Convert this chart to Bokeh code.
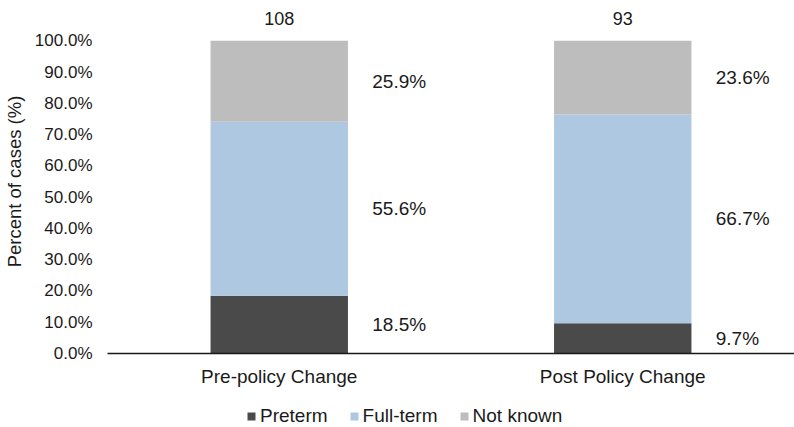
from bokeh.plotting import figure
from bokeh.layouts import column
from bokeh.models import (ColumnDataSource, FactorRange, Range1d, FixedTicker,
                          PrintfTickFormatter, Legend, LegendItem)
from bokeh.embed import file_html
from bokeh.resources import INLINE
from bokeh.core.properties import value

categories = ["Pre-policy Change", "Post Policy Change"]
series = ["Preterm", "Full-term", "Not known"]
preterm = [18.5, 9.7]
fullterm = [55.6, 66.7]
notknown = [25.9, 23.6]
totals = [108, 93]
y_ticks = [0, 10, 20, 30, 40, 50, 60, 70, 80, 90, 100]
colors = ["#4a4a4a", "#adc8e0", "#bdbdbd"]

FONT = "Liberation Sans"
TXT = "#1a1a1a"

data = dict(cat=categories, Preterm=preterm,
            **{"Full-term": fullterm, "Not known": notknown})
src = ColumnDataSource(data)

# headroom above 100% so the totals above the bars stay inside the frame
p = figure(x_range=FactorRange(*categories, range_padding=0),
           y_range=Range1d(0, 110),
           width=794, height=391, output_backend="svg", toolbar_location=None,
           min_border_top=9, min_border_right=0, min_border_bottom=38,
           min_border_left=106)
p.outline_line_color = None
p.grid.grid_line_color = None

rs = p.vbar_stack(series, x="cat", width=0.4, color=colors, source=src,
                  line_color=None)

# segment labels: middle of each stacked segment
lab_x, lab_y, lab_t = [], [], []
for i, c in enumerate(categories):
    base = 0.0
    for vals in (preterm, fullterm, notknown):
        v = vals[i]
        lab_x.append(c)
        lab_y.append(base + v / 2)
        lab_t.append(f"{v:.1f}%")
        base += v
p.text(x=lab_x, y=lab_y, text=lab_t, x_offset=93, text_align="left",
       text_baseline="middle", text_font=value(FONT), text_font_size="19px",
       text_color=TXT)

tot_y = [a + b + c for a, b, c in zip(preterm, fullterm, notknown)]
p.text(x=categories, y=tot_y, text=[str(t) for t in totals], y_offset=-22,
       text_align="center", text_baseline="middle", text_font=value(FONT),
       text_font_size="18px", text_color=TXT)

# axes
p.yaxis.ticker = FixedTicker(ticks=y_ticks)
p.yaxis.formatter = PrintfTickFormatter(format="%.1f%%")
p.yaxis.axis_line_color = None
p.yaxis.major_tick_line_color = None
p.yaxis.minor_tick_line_color = None
p.yaxis.major_tick_out = 0
p.yaxis.major_tick_in = 0
p.yaxis.minor_tick_out = 0
p.yaxis.major_label_text_font = FONT
p.yaxis.major_label_text_font_size = "17px"
p.yaxis.major_label_text_color = TXT
p.yaxis.major_label_standoff = 15
p.yaxis.axis_label = "Percent of cases (%)"
p.yaxis.axis_label_text_font = FONT
p.yaxis.axis_label_text_font_size = "18.5px"
p.yaxis.axis_label_text_font_style = "normal"
p.yaxis.axis_label_text_color = TXT
p.yaxis.axis_label_standoff = 7

p.xaxis.axis_line_color = "#1a1a1a"
p.xaxis.axis_line_width = 1.5
p.xaxis.major_tick_line_color = None
p.xaxis.minor_tick_line_color = None
p.xaxis.major_tick_out = 0
p.xaxis.major_tick_in = 0
p.xaxis.major_label_text_font = FONT
p.xaxis.major_label_text_font_size = "19px"
p.xaxis.major_label_text_color = TXT
p.xaxis.major_label_standoff = 12

# legend strip below the chart
lf = figure(x_range=FactorRange(*categories), y_range=Range1d(1000, 1001),
            width=794, height=36, output_backend="svg", toolbar_location=None,
            x_axis_type=None, y_axis_type=None,
            min_border_top=0, min_border_right=0, min_border_bottom=0,
            min_border_left=0)
lf.outline_line_color = None
lf.grid.grid_line_color = None
lrs = lf.vbar_stack(series, x="cat", width=0.4, color=colors,
                    source=ColumnDataSource(data), line_color=None)
legend = Legend(items=[LegendItem(label=s, renderers=[r]) for s, r in zip(series, lrs)],
                orientation="horizontal", location=(139, 0),
                label_text_font=FONT, label_text_font_size="19px",
                label_text_color=TXT, glyph_width=10, glyph_height=10,
                label_standoff=4, spacing=21, padding=0, margin=0,
                border_line_color=None, background_fill_alpha=0)
lf.add_layout(legend, "center")

open("out.html", "w").write(file_html(column(p, lf, spacing=0), INLINE))
